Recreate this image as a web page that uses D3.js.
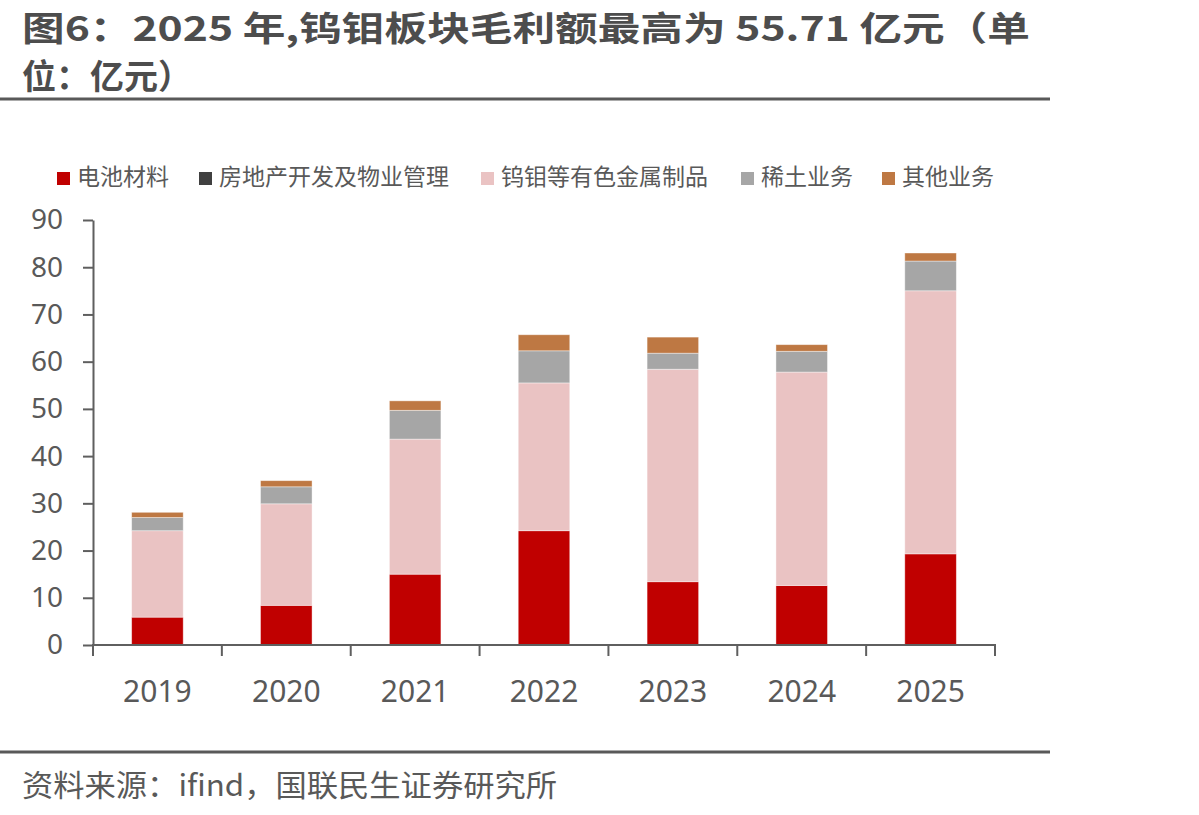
<!DOCTYPE html>
<html>
<head>
<meta charset="utf-8">
<script src="https://cdn.jsdelivr.net/npm/d3@7"></script>
<style>
  html, body { margin: 0; padding: 0; background: #fff; }
  svg { display: block; font-family: "Noto Sans CJK SC", "Noto Sans", sans-serif; }
</style>
</head>
<body>
<div id="chart"></div>
<script>
// categories
const years = ["2019", "2020", "2021", "2022", "2023", "2024", "2025"];

// series values (亿元)
const battery = [5.9, 8.4, 15.0, 24.2, 13.4, 12.6, 19.3];
const realEstate = [0, 0, 0, 0, 0, 0, 0];
const tungsten = [18.3, 21.5, 28.6, 31.3, 45.0, 45.2, 55.71];
const rareEarth = [2.8, 3.6, 6.1, 6.8, 3.4, 4.4, 6.3];
const others = [1.1, 1.3, 2.0, 3.4, 3.4, 1.4, 1.7];

const seriesNames = ["电池材料", "房地产开发及物业管理", "钨钼等有色金属制品", "稀土业务", "其他业务"];
const seriesColors = ["#c00000", "#404040", "#eac3c3", "#a6a6a6", "#be7843"];
const yTicks = [0, 10, 20, 30, 40, 50, 60, 70, 80, 90];

const W = 1199, H = 815;
const textColor = "#595959";
const axisColor = "#5f5f5f";

const svg = d3.select("#chart").append("svg")
  .attr("width", W).attr("height", H);

// title
const title = svg.append("g").attr("fill", "#4d4d4d")
  .attr("font-weight", "bold").attr("font-size", 34);
title.append("text").attr("x", 22).attr("y", 41)
  .attr("textLength", 1008).attr("lengthAdjust", "spacingAndGlyphs")
  .text("图6：2025 年,钨钼板块毛利额最高为 55.71 亿元（单");
title.append("text").attr("x", 22).attr("y", 89).text("位：亿元）");

svg.append("line").attr("x1", 0).attr("x2", 1050).attr("y1", 99).attr("y2", 99)
  .attr("stroke", "#595959").attr("stroke-width", 3);

// table for stacking
const table = years.map((y, i) => ({
  year: y,
  [seriesNames[0]]: battery[i],
  [seriesNames[1]]: realEstate[i],
  [seriesNames[2]]: tungsten[i],
  [seriesNames[3]]: rareEarth[i],
  [seriesNames[4]]: others[i]
}));
const stacked = d3.stack().keys(seriesNames)(table);

// scales
const x = d3.scaleBand().domain(years).range([93, 995])
  .paddingInner(0.6).paddingOuter(0.3);
const y = d3.scaleLinear().domain([0, 90]).range([645, 220]);

// bars
svg.append("g").selectAll("g").data(stacked).join("g")
  .attr("fill", (d, i) => seriesColors[i])
  .selectAll("rect").data(d => d.filter(p => p[1] - p[0] > 0)).join("rect")
  .attr("x", d => x(d.data.year))
  .attr("width", x.bandwidth())
  .attr("y", d => y(d[1]))
  .attr("height", d => y(d[0]) - y(d[1]))
  .attr("stroke", "#fff").attr("stroke-opacity", 0.5).attr("stroke-width", 0.8);

// y axis
const yAxis = svg.append("g").attr("transform", "translate(93,0)")
  .call(d3.axisLeft(y).tickValues(yTicks).tickSize(10).tickPadding(20).tickSizeOuter(0));
yAxis.select(".domain").attr("stroke", axisColor).attr("stroke-width", 2);
yAxis.selectAll(".tick line").attr("stroke", axisColor).attr("stroke-width", 2);
yAxis.selectAll(".tick text").attr("fill", textColor)
  .attr("font-size", 28).attr("font-family", "'Noto Sans', sans-serif");

// x axis: line plus ticks at band boundaries
const xAxis = svg.append("g").attr("transform", "translate(0,645)")
  .call(d3.axisBottom(x).tickSize(0).tickPadding(36));
xAxis.select(".domain").attr("stroke", axisColor).attr("stroke-width", 2)
  .attr("d", "M92,0H996");
xAxis.selectAll(".tick text").attr("fill", textColor)
  .attr("font-size", 30).attr("font-family", "'Noto Sans', sans-serif");
const bounds = years.map(d => x(d) - x.step() * x.paddingInner() / 2)
  .concat([x(years[years.length - 1]) + x.bandwidth() + x.step() * x.paddingInner() / 2]);
xAxis.selectAll("line.bound").data(bounds).join("line").attr("class", "bound")
  .attr("x1", d => d).attr("x2", d => d).attr("y1", 0).attr("y2", 11)
  .attr("stroke", axisColor).attr("stroke-width", 2);

// legend
const legendX = [57, 199, 481, 741, 882];
const legend = svg.append("g").selectAll("g").data(seriesNames).join("g")
  .attr("transform", (d, i) => `translate(${legendX[i]},170)`);
legend.append("rect").attr("width", 13).attr("height", 13).attr("y", 2)
  .attr("fill", (d, i) => seriesColors[i]);
legend.append("text").attr("x", 20).attr("y", 15).attr("font-size", 23)
  .attr("fill", textColor).text(d => d);

// footer
svg.append("line").attr("x1", 0).attr("x2", 1050).attr("y1", 752).attr("y2", 752)
  .attr("stroke", "#595959").attr("stroke-width", 3);
svg.append("text").attr("x", 22).attr("y", 796).attr("font-size", 30)
  .attr("textLength", 535).attr("lengthAdjust", "spacingAndGlyphs")
  .attr("fill", textColor).text("资料来源：ifind，国联民生证券研究所");
</script>
</body>
</html>
